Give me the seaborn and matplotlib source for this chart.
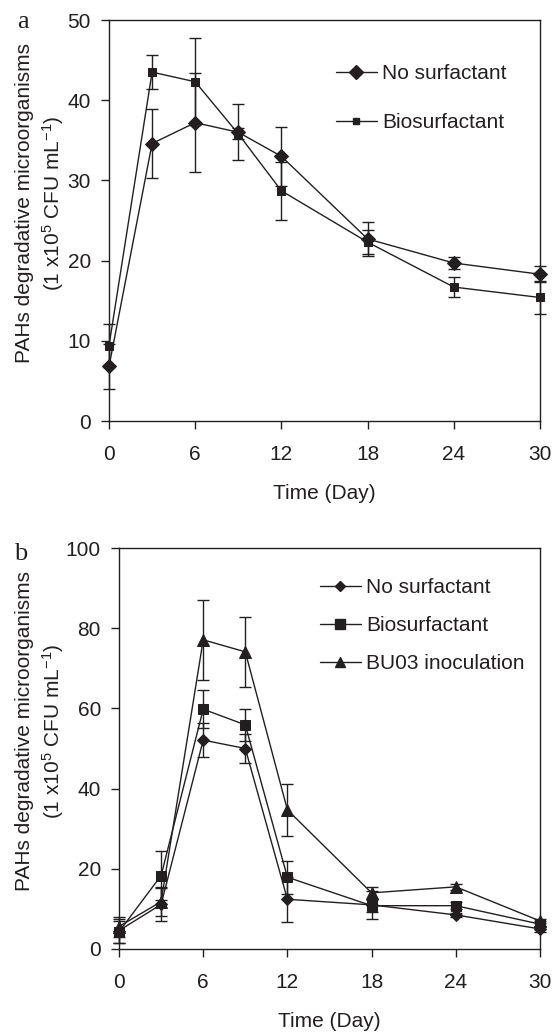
import numpy as np
import pandas as pd
import matplotlib
matplotlib.use("Agg")
import matplotlib.pyplot as plt
from matplotlib.lines import Line2D
import seaborn as sns

# ---------------- data ----------------
days = [0, 3, 6, 9, 12, 18, 24, 30]

# panel a
a_no_surf = [6.8, 34.6, 37.2, 36.0, 33.0, 22.7, 19.7, 18.3]
a_no_surf_err = [2.8, 4.3, 6.2, 3.5, 3.7, 2.1, 0.7, 1.0]
a_bio = [9.4, 43.5, 42.3, 35.8, 28.7, 22.3, 16.7, 15.4]
a_bio_err = [2.7, 2.1, 5.4, 0.7, 3.6, 1.5, 1.3, 2.0]

# panel b
b_no_surf = [4.6, 11.1, 52.1, 50.0, 12.4, 11.0, 8.5, 5.0]
b_no_surf_err = [3.0, 4.2, 4.2, 3.5, 5.6, 3.5, 0.6, 0.8]
b_bio = [4.3, 18.3, 59.8, 55.9, 17.9, 10.8, 10.8, 6.2]
b_bio_err = [2.8, 6.1, 4.8, 4.0, 4.1, 1.5, 0.8, 0.8]
b_bu03 = [5.6, 11.8, 77.1, 74.1, 34.7, 14.0, 15.5, 7.0]
b_bu03_err = [2.5, 3.6, 10.0, 8.8, 6.4, 1.5, 0.8, 0.6]

series_names = ["No surfactant", "Biosurfactant", "BU03 inoculation"]
x_ticks = [0, 6, 12, 18, 24, 30]
a_y_ticks = [0, 10, 20, 30, 40, 50]
b_y_ticks = [0, 20, 40, 60, 80, 100]

xlabel = "Time (Day)"
ylabel1 = "PAHs degradative microorganisms"
ylabel2 = r"(1 x10$^{5}$ CFU mL$^{-1}$)"

# ---------------- style ----------------
sns.set_style("ticks")
plt.rcParams["font.family"] = ["Liberation Sans", "DejaVu Sans"]
plt.rcParams["mathtext.fontset"] = "custom"
plt.rcParams["mathtext.rm"] = "Liberation Sans"
plt.rcParams["mathtext.it"] = "Liberation Sans:italic"
plt.rcParams["mathtext.default"] = "regular"
INK = "#231f20"
FS = 15

fig = plt.figure(figsize=(5.53, 10.32), dpi=100)
W, H = 553.0, 1032.0

def px_axes(left, right, top, bottom):
    return fig.add_axes([left / W, 1 - bottom / H, (right - left) / W, (bottom - top) / H])

ax_a = px_axes(109, 540, 20, 421)
ax_b = px_axes(119, 540, 548, 949)

def draw_panel(ax, series, ylim, yticks, msizes, lsizes, markers, legend_anchor, labelspacing):
    frames = []
    for name, vals, errs in series:
        frames.append(pd.DataFrame({"day": days, "value": vals, "err": errs, "series": name}))
    df = pd.concat(frames, ignore_index=True)
    handles = []
    for name, vals, errs in series:
        sub = df[df["series"] == name]
        ax.errorbar(sub["day"], sub["value"], yerr=sub["err"], fmt="none",
                    ecolor=INK, elinewidth=1.0, capsize=4, capthick=1.0,
                    clip_on=False, zorder=2)
        sns.lineplot(data=sub, x="day", y="value", ax=ax, color=INK,
                     marker=markers[name], markersize=msizes[name],
                     markeredgecolor=INK, markerfacecolor=INK,
                     linewidth=1.0, legend=False, clip_on=False, zorder=3)
        handles.append(Line2D([], [], color=INK, linewidth=1.0, marker=markers[name],
                              markersize=lsizes[name], markerfacecolor=INK,
                              markeredgecolor=INK, label=name))
    ax.set_xlim(0, 30)
    ax.set_ylim(*ylim)
    ax.set_xticks(x_ticks)
    ax.set_yticks(yticks)
    ax.tick_params(direction="out", length=6, width=1.0, color=INK,
                   labelsize=FS, labelcolor=INK)
    ax.tick_params(axis="x", pad=11)
    ax.tick_params(axis="y", pad=7)
    for sp in ax.spines.values():
        sp.set_visible(True)
        sp.set_color(INK)
        sp.set_linewidth(1.0)
    ax.set_xlabel(xlabel, fontsize=FS, color=INK)
    ax.set_ylabel("")
    leg = ax.legend(handles=handles, loc="upper left", bbox_to_anchor=legend_anchor,
                    frameon=False, fontsize=FS, handlelength=1.95, handletextpad=0.25,
                    borderpad=0, borderaxespad=0, labelspacing=labelspacing)
    for t in leg.get_texts():
        t.set_color(INK)
    return ax

draw_panel(ax_a,
           [(series_names[0], a_no_surf, a_no_surf_err),
            (series_names[1], a_bio, a_bio_err)],
           (0, 50), a_y_ticks,
           {series_names[0]: 7.0, series_names[1]: 6.0},
           {series_names[0]: 7.0, series_names[1]: 5.0},
           {series_names[0]: "D", series_names[1]: "s"},
           ((336 - 109) / 431, (421 - 64) / 401), 1.44)

draw_panel(ax_b,
           [(series_names[0], b_no_surf, b_no_surf_err),
            (series_names[1], b_bio, b_bio_err),
            (series_names[2], b_bu03, b_bu03_err)],
           (0, 100), b_y_ticks,
           {series_names[0]: 6.0, series_names[1]: 7.5, series_names[2]: 9.0},
           {series_names[0]: 5.0, series_names[1]: 6.5, series_names[2]: 7.5},
           {series_names[0]: "D", series_names[1]: "s", series_names[2]: "^"},
           ((320 - 119) / 421, (949 - 578) / 401), 0.92)

# axis labels placement
for ax, left in ((ax_a, 109), (ax_b, 119)):
    ax.xaxis.set_label_coords(0.5, -(484 - 421) / 401)
    ax.set_ylabel(ylabel1, fontsize=FS, color=INK, va="baseline")
    ax.yaxis.set_label_coords((30 - left) / (540 - left), 0.543)
    ax.text((60 - left) / (540 - left), 0.543, ylabel2, transform=ax.transAxes,
            rotation=90, rotation_mode="anchor", ha="center", va="baseline",
            fontsize=FS, color=INK)

fig.text(23 / W, 1 - 28 / H, "a", family="Liberation Serif", fontsize=19,
         ha="center", va="baseline", color=INK)
fig.text(21 / W, 1 - 560 / H, "b", family="Liberation Serif", fontsize=19,
         ha="center", va="baseline", color=INK)

fig.savefig("out.png", dpi=100, facecolor="white")
